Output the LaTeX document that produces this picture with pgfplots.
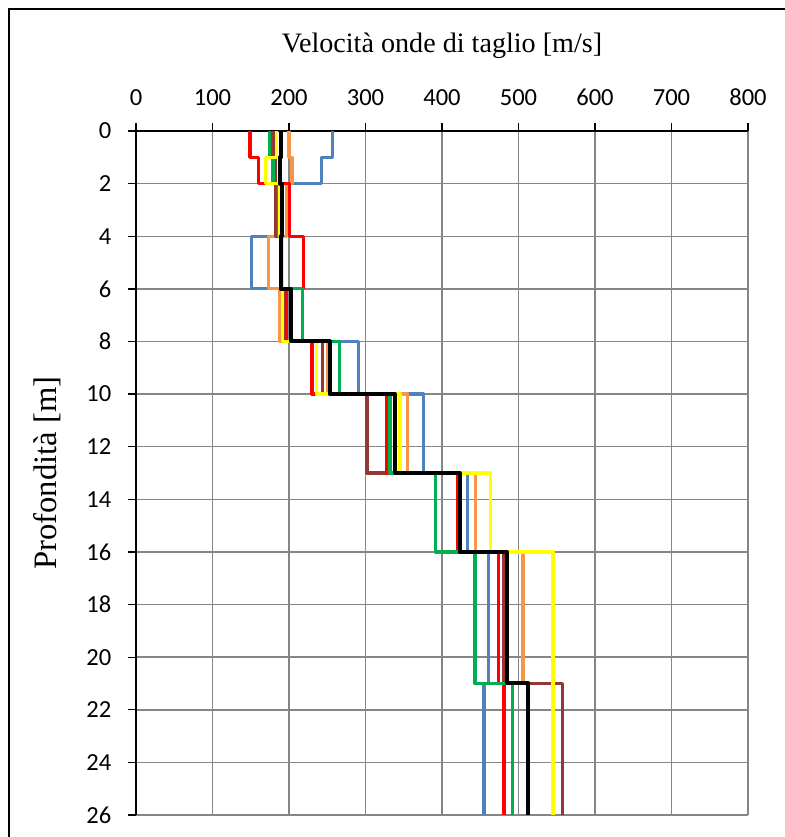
\documentclass[border=0pt]{standalone}
\usepackage{pgfplots}
\pgfplotsset{compat=1.18}
\usepackage{fontspec}
\setmainfont{Liberation Serif}
\newfontfamily\calibri{Carlito}

\definecolor{sBlue}{RGB}{79,129,189}
\definecolor{sOrange}{RGB}{247,150,70}
\definecolor{sRed}{RGB}{255,0,0}
\definecolor{sGreen}{RGB}{0,176,80}
\definecolor{sYellow}{RGB}{255,255,0}
\definecolor{sBrown}{RGB}{149,55,53}
\definecolor{gridgray}{RGB}{134,134,134}

\begin{document}
\begin{tikzpicture}
% page area and chart frame
\path[use as bounding box] (0pt,0pt) rectangle (588pt,-627.75pt);
\draw[line width=1.6pt] (6.75pt,-6.75pt) rectangle (600pt,-645pt);

\begin{axis}[
  at={(102pt,-98.25pt)}, anchor=north west,
  scale only axis, width=459pt, height=513pt,
  xmin=0, xmax=800, ymin=0, ymax=26,
  y dir=reverse,
  axis x line=top, axis y line=left,
  axis line style={-, black, line width=1.2pt},
  xtick={0,100,...,800}, ytick={0,2,...,26},
  tick align=outside, major tick length=6pt,
  tick style={black, line width=1pt},
  grid=major,
  major grid style={gridgray, line width=1.1pt},
  /pgf/number format/assume math mode=true,
  ticklabel style={font=\calibri\fontsize{18.4}{20}\selectfont},
  xticklabel style={yshift=9.75pt},
  yticklabel style={xshift=-9pt},
  title={Velocità onde di taglio [m/s]},
  title style={font=\fontsize{21.1}{24}\selectfont, at={(axis description cs:0.5,1.1133)}, anchor=center},
  ylabel={Profondità [m]},
  ylabel style={font=\fontsize{24.5}{28}\selectfont, at={(axis description cs:-0.1454,0.5)}, anchor=center},
  clip=false,
]
% shear-wave velocity profiles: (Vs, depth) corners of each layer
\addplot[sBlue, line width=2.4pt, line join=round] coordinates {
 (257,0)(257,1)(243,1)(243,2)(186,2)(186,4)(151,4)(151,6)(195,6)(195,8)
 (291,8)(291,10)(376,10)(376,13)(433,13)(433,16)(461,16)(461,21)(455,21)(455,26)};
\addplot[sOrange, line width=2.4pt, line join=round] coordinates {
 (200,0)(200,1)(204,1)(204,2)(197,2)(197,4)(173,4)(173,6)(188,6)(188,8)
 (250,8)(250,10)(355,10)(355,13)(444,13)(444,16)(506,16)(506,21)};
\addplot[sBrown, line width=2.4pt, line join=round] coordinates {
 (179,0)(179,1)(182,1)(182,2)(183,2)(183,4)(190,4)(190,6)(195,6)(195,8)
 (244,8)(244,10)(302,10)(302,13)(422,13)(422,16)(480,16)(480,21)(557,21)(557,26)};
\addplot[sRed, line width=2.4pt, line join=round] coordinates {
 (149,0)(149,1)(160,1)(160,2)(201,2)(201,4)(219,4)(219,6)(197,6)(197,8)
 (230,8)(230,10)(327,10)(327,13)(421,13)(421,16)(474,16)(474,21)(481,21)(481,26)};
\addplot[sGreen, line width=2.4pt, line join=round] coordinates {
 (175,0)(175,1)(179,1)(179,2)(186,2)(186,4)(191,4)(191,6)(218,6)(218,8)
 (266,8)(266,10)(332,10)(332,13)(391,13)(391,16)(443,16)(443,21)(492,21)(492,26)};
\addplot[sYellow, line width=2.4pt, line join=round] coordinates {
 (184,0)(184,1)(169,1)(169,2)(188,2)(188,4)(192,4)(192,6)(192,6)(192,8)
 (236,8)(236,10)(345,10)(345,13)(463,13)(463,16)(545,16)(545,26)};
\addplot[black, line width=3pt, line join=round] coordinates {
 (190,0)(190,1)(188,1)(188,2)(191,2)(191,4)(189,4)(189,6)(202,6)(202,8)
 (253,8)(253,10)(339,10)(339,13)(423,13)(423,16)(485,16)(485,21)(513,21)(513,26)};
\end{axis}
\end{tikzpicture}
\end{document}
